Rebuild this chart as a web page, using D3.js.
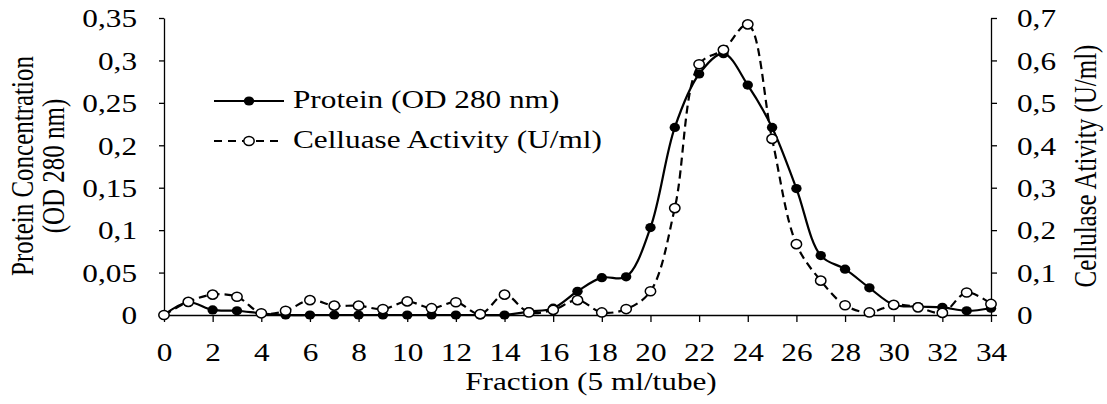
<!DOCTYPE html>
<html>
<head>
<meta charset="utf-8">
<script src="https://cdn.jsdelivr.net/npm/d3@7/dist/d3.min.js"></script>
<style>
  html, body { margin: 0; padding: 0; background: #fff; }
  svg { display: block; }
  text { font-family: "Liberation Serif", "Times New Roman", serif; fill: #000; }
</style>
</head>
<body>
<svg id="chart" width="1107" height="404"></svg>
<script>
// ---------------- data ----------------
const fractions = d3.range(0, 35);
const protein = [0, 0.015, 0.006, 0.005, 0.002, 0, 0, 0, 0, 0, 0, 0, 0, 0, 0, 0.004, 0.008,
  0.028, 0.044, 0.045, 0.103, 0.221, 0.284, 0.308, 0.271, 0.221, 0.149, 0.070, 0.054,
  0.032, 0.012, 0.010, 0.009, 0.005, 0.008];
const activity = [0, 0.031, 0.048, 0.043, 0.004, 0.010, 0.035, 0.022, 0.022, 0.014, 0.032,
  0.016, 0.030, 0.002, 0.048, 0.006, 0.012, 0.035, 0.006, 0.014, 0.056, 0.252, 0.591,
  0.625, 0.685, 0.415, 0.167, 0.081, 0.023, 0.006, 0.024, 0.018, 0.005, 0.053, 0.026];
const xTicks = d3.range(0, 35, 2);
const leftTicks = [0, 0.05, 0.1, 0.15, 0.2, 0.25, 0.3, 0.35];
const rightTicks = [0, 0.1, 0.2, 0.3, 0.4, 0.5, 0.6, 0.7];
const seriesNames = ["Protein (OD 280 nm)", "Celluase Activity (U/ml)"];
const xTitle = "Fraction (5 ml/tube)";
const leftTitle = ["Protein Concentration", "(OD 280 nm)"];
const rightTitle = "Cellulase Ativity (U/ml)";

// ---------------- layout ----------------
const SX = 1.25;          // horizontal stretch of the original picture's lettering
const FS = 25;            // font size
const L = 164, R = 991, T = 18, B = 315;

const svg = d3.select("#chart");
const x = d3.scaleLinear().domain([0, 34]).range([L, R]);
const yL = d3.scaleLinear().domain([0, 0.35]).range([B, T]);
const yR = d3.scaleLinear().domain([0, 0.7]).range([B, T]);
const comma = v => String(+v.toFixed(2)).replace(".", ",");

// axes
const gx = svg.append("g").attr("transform", `translate(0,${B})`)
  .call(d3.axisBottom(x).tickValues(xTicks).tickSize(7).tickSizeOuter(0).tickFormat(d3.format("d")));
gx.selectAll("text").attr("y", 46).attr("dy", 0)
  .attr("transform", `scale(${SX},1)`).each(function(d){ d3.select(this).attr("x", 0); });
// center labels under ticks when scaled: move group-level
gx.selectAll(".tick text").attr("transform", null)
  .each(function(){
    const t = d3.select(this);
    t.attr("transform", `scale(${SX},1)`);
  });

const gl = svg.append("g").attr("transform", `translate(${L},0)`)
  .call(d3.axisLeft(yL).tickValues(leftTicks).tickSize(5).tickSizeOuter(0).tickFormat(comma));
gl.selectAll(".tick text").attr("x", -27 / SX).attr("dy", "0.35em").attr("transform", `scale(${SX},1)`);

const gr = svg.append("g").attr("transform", `translate(${R},0)`)
  .call(d3.axisRight(yR).tickValues(rightTicks).tickSize(6).tickSizeOuter(0).tickFormat(comma));
gr.selectAll(".tick text").attr("x", 26 / SX).attr("dy", "0.35em").attr("transform", `scale(${SX},1)`);

svg.selectAll(".domain, .tick line").attr("stroke", "#000").attr("stroke-width", 1.3);
svg.selectAll(".tick text").attr("font-size", FS).attr("font-family", "Liberation Serif").attr("fill", "#000");

// titles
function stext(xp, yp, str, anchor, rot) {
  return svg.append("text")
    .attr("transform", `translate(${xp},${yp}) scale(${SX},1)` + (rot ? ` rotate(${rot})` : ""))
    .attr("text-anchor", anchor).attr("font-size", FS).text(str);
}
stext(591, 390, xTitle, "middle");
stext(33, 166, leftTitle[0], "middle", -90);
stext(64, 166, leftTitle[1], "middle", -90);
stext(1096, 166, rightTitle, "middle", -90);

// lines
const curve = d3.curveCatmullRom.alpha(0.5);
const lineP = d3.line().x((d, i) => x(fractions[i])).y(d => yL(d)).curve(curve);
const lineA = d3.line().x((d, i) => x(fractions[i])).y(d => yR(d)).curve(curve);

svg.append("path").datum(protein).attr("d", lineP)
  .attr("fill", "none").attr("stroke", "#000").attr("stroke-width", 2.2);
svg.append("g").selectAll("ellipse").data(protein).join("ellipse")
  .attr("cx", (d, i) => x(fractions[i])).attr("cy", d => yL(d))
  .attr("rx", 5.2).attr("ry", 4.6).attr("fill", "#000");

svg.append("path").datum(activity).attr("d", lineA)
  .attr("fill", "none").attr("stroke", "#000").attr("stroke-width", 2.2)
  .attr("stroke-dasharray", "8,5");
svg.append("g").selectAll("ellipse").data(activity).join("ellipse")
  .attr("cx", (d, i) => x(fractions[i])).attr("cy", d => yR(d))
  .attr("rx", 5.2).attr("ry", 4.6).attr("fill", "#fff").attr("stroke", "#000").attr("stroke-width", 1.5);

// legend
const lg = svg.append("g");
lg.append("line").attr("x1", 214).attr("x2", 284).attr("y1", 101).attr("y2", 101)
  .attr("stroke", "#000").attr("stroke-width", 2.2);
lg.append("ellipse").attr("cx", 249).attr("cy", 101).attr("rx", 5.2).attr("ry", 4.6).attr("fill", "#000");
lg.append("line").attr("x1", 214).attr("x2", 284).attr("y1", 141).attr("y2", 141)
  .attr("stroke", "#000").attr("stroke-width", 2.2).attr("stroke-dasharray", "8,6");
lg.append("ellipse").attr("cx", 249).attr("cy", 141).attr("rx", 5.2).attr("ry", 4.6)
  .attr("fill", "#fff").attr("stroke", "#000").attr("stroke-width", 1.5);
stext(293, 108, seriesNames[0], "start");
stext(293, 148, seriesNames[1], "start");
</script>
</body>
</html>
